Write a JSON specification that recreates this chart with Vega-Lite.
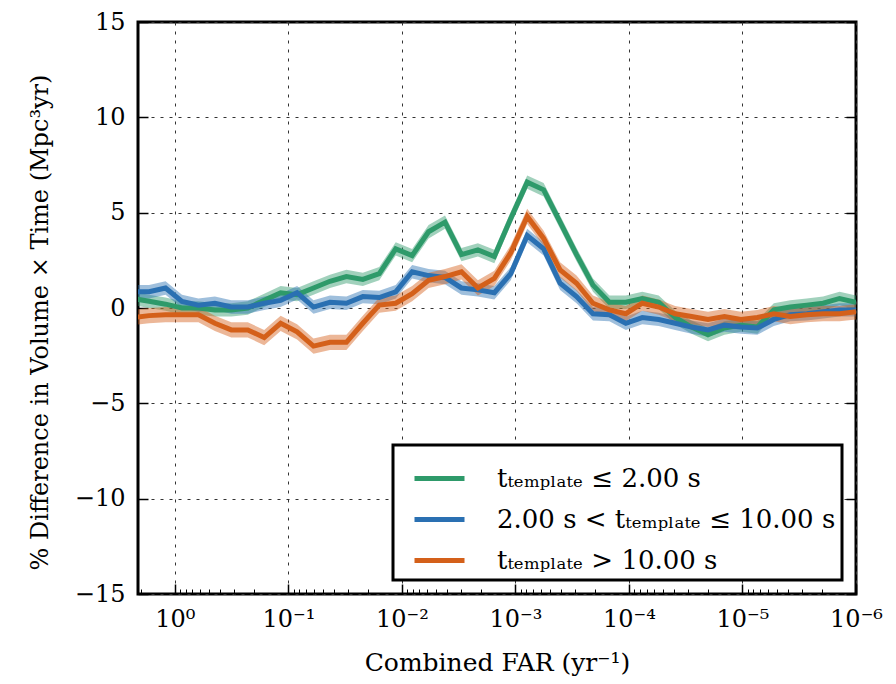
{
  "$schema": "https://vega.github.io/schema/vega-lite/v6.json",
  "width": 718,
  "height": 572,
  "autosize": {"type": "none"},
  "padding": {"left": 138, "top": 22, "right": 40, "bottom": 90},
  "background": "white",
  "config": {
    "view": {"stroke": "black", "strokeWidth": 3},
    "font": "DejaVu Serif",
    "axis": {
      "labelFont": "DejaVu Serif",
      "titleFont": "DejaVu Serif",
      "labelColor": "black",
      "titleColor": "black",
      "titleFontWeight": "normal",
      "domain": false,
      "gridColor": "#333333",
      "gridDash": [3, 6],
      "gridWidth": 1,
      "gridOpacity": 1,
      "tickColor": "black"
    },
    "legend": {"labelFont": "DejaVu Serif"}
  },
  "data": {
    "values": [
      {"far": 2.35, "v": 0.5, "lo": 0.15, "hi": 0.85, "s": "g"},
      {"far": 1.685, "v": 0.35, "lo": 0, "hi": 0.7, "s": "g"},
      {"far": 1.207, "v": 0.2, "lo": -0.15, "hi": 0.55, "s": "g"},
      {"far": 0.8646, "v": 0, "lo": -0.35, "hi": 0.35, "s": "g"},
      {"far": 0.6194, "v": 0, "lo": -0.35, "hi": 0.35, "s": "g"},
      {"far": 0.4437, "v": -0.1, "lo": -0.45, "hi": 0.25, "s": "g"},
      {"far": 0.3179, "v": -0.1, "lo": -0.45, "hi": 0.25, "s": "g"},
      {"far": 0.2277, "v": 0, "lo": -0.35, "hi": 0.35, "s": "g"},
      {"far": 0.1632, "v": 0.4, "lo": 0.05, "hi": 0.75, "s": "g"},
      {"far": 0.1169, "v": 0.8, "lo": 0.45, "hi": 1.15, "s": "g"},
      {"far": 0.08378, "v": 0.7, "lo": 0.35, "hi": 1.05, "s": "g"},
      {"far": 0.06003, "v": 1.05, "lo": 0.7, "hi": 1.4, "s": "g"},
      {"far": 0.043, "v": 1.4, "lo": 1.05, "hi": 1.75, "s": "g"},
      {"far": 0.03081, "v": 1.65, "lo": 1.3, "hi": 2.0, "s": "g"},
      {"far": 0.02208, "v": 1.5, "lo": 1.15, "hi": 1.85, "s": "g"},
      {"far": 0.01582, "v": 1.8, "lo": 1.45, "hi": 2.15, "s": "g"},
      {"far": 0.01133, "v": 3.1, "lo": 2.75, "hi": 3.45, "s": "g"},
      {"far": 0.00812, "v": 2.75, "lo": 2.4, "hi": 3.1, "s": "g"},
      {"far": 0.005818, "v": 4.0, "lo": 3.65, "hi": 4.35, "s": "g"},
      {"far": 0.004169, "v": 4.5, "lo": 4.15, "hi": 4.85, "s": "g"},
      {"far": 0.002987, "v": 2.8, "lo": 2.45, "hi": 3.15, "s": "g"},
      {"far": 0.00214, "v": 3.05, "lo": 2.7, "hi": 3.4, "s": "g"},
      {"far": 0.001533, "v": 2.7, "lo": 2.35, "hi": 3.05, "s": "g"},
      {"far": 0.001099, "v": 4.7, "lo": 4.35, "hi": 5.05, "s": "g"},
      {"far": 0.000787, "v": 6.6, "lo": 6.25, "hi": 6.95, "s": "g"},
      {"far": 0.000564, "v": 6.2, "lo": 5.85, "hi": 6.55, "s": "g"},
      {"far": 0.000404, "v": 4.5, "lo": 4.15, "hi": 4.85, "s": "g"},
      {"far": 0.0002894, "v": 2.8, "lo": 2.45, "hi": 3.15, "s": "g"},
      {"far": 0.0002074, "v": 1.2, "lo": 0.85, "hi": 1.55, "s": "g"},
      {"far": 0.0001486, "v": 0.3, "lo": -0.05, "hi": 0.65, "s": "g"},
      {"far": 0.0001065, "v": 0.3, "lo": -0.05, "hi": 0.65, "s": "g"},
      {"far": 0.00007629, "v": 0.5, "lo": 0.15, "hi": 0.85, "s": "g"},
      {"far": 0.00005466, "v": 0.3, "lo": -0.05, "hi": 0.65, "s": "g"},
      {"far": 0.00003916, "v": -0.5, "lo": -0.85, "hi": -0.15, "s": "g"},
      {"far": 0.00002806, "v": -1.0, "lo": -1.35, "hi": -0.65, "s": "g"},
      {"far": 0.00002011, "v": -1.4, "lo": -1.75, "hi": -1.05, "s": "g"},
      {"far": 0.00001441, "v": -1.05, "lo": -1.4, "hi": -0.7, "s": "g"},
      {"far": 0.00001032, "v": -0.9, "lo": -1.25, "hi": -0.55, "s": "g"},
      {"far": 0.000007393, "v": -1.0, "lo": -1.35, "hi": -0.65, "s": "g"},
      {"far": 0.000005297, "v": -0.1, "lo": -0.45, "hi": 0.25, "s": "g"},
      {"far": 0.000003795, "v": 0.05, "lo": -0.3, "hi": 0.4, "s": "g"},
      {"far": 0.000002719, "v": 0.15, "lo": -0.2, "hi": 0.5, "s": "g"},
      {"far": 0.000001948, "v": 0.25, "lo": -0.1, "hi": 0.6, "s": "g"},
      {"far": 0.000001396, "v": 0.5, "lo": 0.15, "hi": 0.85, "s": "g"},
      {"far": 0.000001, "v": 0.3, "lo": -0.05, "hi": 0.65, "s": "g"},

      {"far": 2.35, "v": 0.85, "lo": 0.5, "hi": 1.2, "s": "b"},
      {"far": 1.685, "v": 0.85, "lo": 0.5, "hi": 1.2, "s": "b"},
      {"far": 1.207, "v": 1.05, "lo": 0.7, "hi": 1.4, "s": "b"},
      {"far": 0.8646, "v": 0.35, "lo": 0, "hi": 0.7, "s": "b"},
      {"far": 0.6194, "v": 0.15, "lo": -0.2, "hi": 0.5, "s": "b"},
      {"far": 0.4437, "v": 0.25, "lo": -0.1, "hi": 0.6, "s": "b"},
      {"far": 0.3179, "v": 0.05, "lo": -0.3, "hi": 0.4, "s": "b"},
      {"far": 0.2277, "v": 0.05, "lo": -0.3, "hi": 0.4, "s": "b"},
      {"far": 0.1632, "v": 0.25, "lo": -0.1, "hi": 0.6, "s": "b"},
      {"far": 0.1169, "v": 0.4, "lo": 0.05, "hi": 0.75, "s": "b"},
      {"far": 0.08378, "v": 0.8, "lo": 0.45, "hi": 1.15, "s": "b"},
      {"far": 0.06003, "v": 0.05, "lo": -0.3, "hi": 0.4, "s": "b"},
      {"far": 0.043, "v": 0.3, "lo": -0.05, "hi": 0.65, "s": "b"},
      {"far": 0.03081, "v": 0.25, "lo": -0.1, "hi": 0.6, "s": "b"},
      {"far": 0.02208, "v": 0.6, "lo": 0.25, "hi": 0.95, "s": "b"},
      {"far": 0.01582, "v": 0.55, "lo": 0.2, "hi": 0.9, "s": "b"},
      {"far": 0.01133, "v": 0.85, "lo": 0.5, "hi": 1.2, "s": "b"},
      {"far": 0.00812, "v": 1.9, "lo": 1.55, "hi": 2.25, "s": "b"},
      {"far": 0.005818, "v": 1.7, "lo": 1.35, "hi": 2.05, "s": "b"},
      {"far": 0.004169, "v": 1.6, "lo": 1.25, "hi": 1.95, "s": "b"},
      {"far": 0.002987, "v": 1.05, "lo": 0.7, "hi": 1.4, "s": "b"},
      {"far": 0.00214, "v": 0.95, "lo": 0.6, "hi": 1.3, "s": "b"},
      {"far": 0.001533, "v": 0.8, "lo": 0.45, "hi": 1.15, "s": "b"},
      {"far": 0.001099, "v": 1.8, "lo": 1.45, "hi": 2.15, "s": "b"},
      {"far": 0.000787, "v": 3.8, "lo": 3.45, "hi": 4.15, "s": "b"},
      {"far": 0.000564, "v": 3.1, "lo": 2.75, "hi": 3.45, "s": "b"},
      {"far": 0.000404, "v": 1.3, "lo": 0.95, "hi": 1.65, "s": "b"},
      {"far": 0.0002894, "v": 0.6, "lo": 0.25, "hi": 0.95, "s": "b"},
      {"far": 0.0002074, "v": -0.3, "lo": -0.65, "hi": 0.05, "s": "b"},
      {"far": 0.0001486, "v": -0.35, "lo": -0.7, "hi": 0, "s": "b"},
      {"far": 0.0001065, "v": -0.8, "lo": -1.15, "hi": -0.45, "s": "b"},
      {"far": 0.00007629, "v": -0.5, "lo": -0.85, "hi": -0.15, "s": "b"},
      {"far": 0.00005466, "v": -0.6, "lo": -0.95, "hi": -0.25, "s": "b"},
      {"far": 0.00003916, "v": -0.8, "lo": -1.15, "hi": -0.45, "s": "b"},
      {"far": 0.00002806, "v": -1.0, "lo": -1.35, "hi": -0.65, "s": "b"},
      {"far": 0.00002011, "v": -1.15, "lo": -1.5, "hi": -0.8, "s": "b"},
      {"far": 0.00001441, "v": -0.9, "lo": -1.25, "hi": -0.55, "s": "b"},
      {"far": 0.00001032, "v": -1.0, "lo": -1.35, "hi": -0.65, "s": "b"},
      {"far": 0.000007393, "v": -1.05, "lo": -1.4, "hi": -0.7, "s": "b"},
      {"far": 0.000005297, "v": -0.6, "lo": -0.95, "hi": -0.25, "s": "b"},
      {"far": 0.000003795, "v": -0.35, "lo": -0.7, "hi": 0, "s": "b"},
      {"far": 0.000002719, "v": -0.3, "lo": -0.65, "hi": 0.05, "s": "b"},
      {"far": 0.000001948, "v": -0.2, "lo": -0.55, "hi": 0.15, "s": "b"},
      {"far": 0.000001396, "v": -0.1, "lo": -0.45, "hi": 0.25, "s": "b"},
      {"far": 0.000001, "v": -0.1, "lo": -0.45, "hi": 0.25, "s": "b"},

      {"far": 2.35, "v": -0.5, "lo": -0.9, "hi": -0.1, "s": "o"},
      {"far": 1.685, "v": -0.4, "lo": -0.8, "hi": 0, "s": "o"},
      {"far": 1.207, "v": -0.35, "lo": -0.75, "hi": 0.05, "s": "o"},
      {"far": 0.8646, "v": -0.35, "lo": -0.75, "hi": 0.05, "s": "o"},
      {"far": 0.6194, "v": -0.35, "lo": -0.75, "hi": 0.05, "s": "o"},
      {"far": 0.4437, "v": -0.8, "lo": -1.2, "hi": -0.4, "s": "o"},
      {"far": 0.3179, "v": -1.15, "lo": -1.55, "hi": -0.75, "s": "o"},
      {"far": 0.2277, "v": -1.15, "lo": -1.55, "hi": -0.75, "s": "o"},
      {"far": 0.1632, "v": -1.55, "lo": -1.95, "hi": -1.15, "s": "o"},
      {"far": 0.1169, "v": -0.8, "lo": -1.2, "hi": -0.4, "s": "o"},
      {"far": 0.08378, "v": -1.25, "lo": -1.65, "hi": -0.85, "s": "o"},
      {"far": 0.06003, "v": -2.0, "lo": -2.4, "hi": -1.6, "s": "o"},
      {"far": 0.043, "v": -1.8, "lo": -2.2, "hi": -1.4, "s": "o"},
      {"far": 0.03081, "v": -1.8, "lo": -2.2, "hi": -1.4, "s": "o"},
      {"far": 0.02208, "v": -0.8, "lo": -1.2, "hi": -0.4, "s": "o"},
      {"far": 0.01582, "v": 0.15, "lo": -0.25, "hi": 0.55, "s": "o"},
      {"far": 0.01133, "v": 0.25, "lo": -0.15, "hi": 0.65, "s": "o"},
      {"far": 0.00812, "v": 0.75, "lo": 0.35, "hi": 1.15, "s": "o"},
      {"far": 0.005818, "v": 1.45, "lo": 1.05, "hi": 1.85, "s": "o"},
      {"far": 0.004169, "v": 1.65, "lo": 1.25, "hi": 2.05, "s": "o"},
      {"far": 0.002987, "v": 1.9, "lo": 1.5, "hi": 2.3, "s": "o"},
      {"far": 0.00214, "v": 1.05, "lo": 0.65, "hi": 1.45, "s": "o"},
      {"far": 0.001533, "v": 1.55, "lo": 1.15, "hi": 1.95, "s": "o"},
      {"far": 0.001099, "v": 2.9, "lo": 2.5, "hi": 3.3, "s": "o"},
      {"far": 0.000787, "v": 4.8, "lo": 4.4, "hi": 5.2, "s": "o"},
      {"far": 0.000564, "v": 3.65, "lo": 3.25, "hi": 4.05, "s": "o"},
      {"far": 0.000404, "v": 2.0, "lo": 1.6, "hi": 2.4, "s": "o"},
      {"far": 0.0002894, "v": 1.3, "lo": 0.9, "hi": 1.7, "s": "o"},
      {"far": 0.0002074, "v": 0.25, "lo": -0.15, "hi": 0.65, "s": "o"},
      {"far": 0.0001486, "v": -0.1, "lo": -0.5, "hi": 0.3, "s": "o"},
      {"far": 0.0001065, "v": -0.3, "lo": -0.7, "hi": 0.1, "s": "o"},
      {"far": 0.00007629, "v": 0.25, "lo": -0.15, "hi": 0.65, "s": "o"},
      {"far": 0.00005466, "v": 0.05, "lo": -0.35, "hi": 0.45, "s": "o"},
      {"far": 0.00003916, "v": -0.3, "lo": -0.7, "hi": 0.1, "s": "o"},
      {"far": 0.00002806, "v": -0.45, "lo": -0.85, "hi": -0.05, "s": "o"},
      {"far": 0.00002011, "v": -0.6, "lo": -1.0, "hi": -0.2, "s": "o"},
      {"far": 0.00001441, "v": -0.45, "lo": -0.85, "hi": -0.05, "s": "o"},
      {"far": 0.00001032, "v": -0.6, "lo": -1.0, "hi": -0.2, "s": "o"},
      {"far": 0.000007393, "v": -0.5, "lo": -0.9, "hi": -0.1, "s": "o"},
      {"far": 0.000005297, "v": -0.3, "lo": -0.7, "hi": 0.1, "s": "o"},
      {"far": 0.000003795, "v": -0.45, "lo": -0.85, "hi": -0.05, "s": "o"},
      {"far": 0.000002719, "v": -0.35, "lo": -0.75, "hi": 0.05, "s": "o"},
      {"far": 0.000001948, "v": -0.3, "lo": -0.7, "hi": 0.1, "s": "o"},
      {"far": 0.000001396, "v": -0.3, "lo": -0.7, "hi": 0.1, "s": "o"},
      {"far": 0.000001, "v": -0.2, "lo": -0.6, "hi": 0.2, "s": "o"}
    ]
  },
  "resolve": {"axis": {"x": "independent", "y": "independent"}},
  "layer": [
    {
      "mark": {"type": "area", "opacity": 0.45, "clip": true},
      "encoding": {
        "x": {
          "field": "far",
          "type": "quantitative",
          "scale": {"type": "log", "domain": [0.000001, 2.11], "reverse": true, "nice": false},
          "axis": {
            "values": [1, 0.1, 0.01, 0.001, 0.0001, 0.00001, 0.000001],
            "labelExpr": "'10' + ['⁰','⁻¹','⁻²','⁻³','⁻⁴','⁻⁵','⁻⁶'][round(-log(datum.value)/LN10)]",
            "labelFont": "DejaVu Serif",
            "labelFontSize": 24,
            "labelPadding": 23,
            "labelFlush": false,
            "tickSize": -10,
            "tickWidth": 1.5,
            "grid": true,
            "title": "Combined FAR (yr⁻¹)",
            "titleFont": "DejaVu Serif",
            "titleFontSize": 25,
            "titleX": 359,
            "titleY": 68,
            "titleBaseline": "middle"
          }
        },
        "y": {
          "field": "lo",
          "type": "quantitative",
          "scale": {"domain": [-15, 15], "nice": false},
          "axis": {
            "values": [-15, -10, -5, 0, 5, 10, 15],
            "labelFont": "DejaVu Serif",
            "labelFontSize": 24,
            "labelPadding": 23,
            "tickSize": -10,
            "tickWidth": 1.5,
            "grid": true,
            "title": "% Difference in Volume × Time (Mpc³yr)",
            "titleFont": "DejaVu Serif",
            "titleFontSize": 24,
            "titleX": -98,
            "titleY": 300,
            "titleBaseline": "middle"
          }
        },
        "y2": {"field": "hi"},
        "color": {
          "field": "s",
          "type": "nominal",
          "scale": {"domain": ["g", "b", "o"], "range": ["#2e9a6a", "#2a70b2", "#d4601a"]},
          "legend": {
            "orient": "bottom-right",
            "offset": 14,
            "title": null,
            "fillColor": "white",
            "strokeColor": "black",
            "padding": 6,
            "labelFont": "DejaVu Serif",
            "labelFontSize": 26,
            "labelLimit": 600,
            "labelOffset": 30,
            "rowPadding": 0,
            "symbolOffset": 13,
            "symbolType": "stroke",
            "symbolStrokeWidth": 5,
            "symbolSize": 2500,
            "symbolOpacity": 1,
            "labelExpr": "datum.label == 'g' ? 'tₜₑₘₚₗₐₜₑ ≤ 2.00 s' : datum.label == 'b' ? '2.00 s < tₜₑₘₚₗₐₜₑ ≤ 10.00 s' : 'tₜₑₘₚₗₐₜₑ > 10.00 s'",
            "encode": {"legend": {"update": {"strokeWidth": {"value": 3}}}}
          }
        }
      }
    },
    {
      "mark": {"type": "line", "strokeWidth": 5, "clip": true},
      "encoding": {
        "x": {
          "field": "far",
          "type": "quantitative",
          "axis": {
            "orient": "bottom",
            "values": [2, 0.9, 0.8, 0.7, 0.6, 0.5, 0.4, 0.3, 0.2, 0.09, 0.08, 0.07, 0.06, 0.05, 0.04, 0.03, 0.02, 0.009, 0.008, 0.007, 0.006, 0.005, 0.004, 0.003, 0.002, 0.0009, 0.0008, 0.0007, 0.0006, 0.0005, 0.0004, 0.0003, 0.0002, 0.00009, 0.00008, 0.00007, 0.00006, 0.00005, 0.00004, 0.00003, 0.00002, 0.000009, 0.000008, 0.000007, 0.000006, 0.000005, 0.000004, 0.000003, 0.000002],
            "labels": false,
            "grid": false,
            "tickSize": -5,
            "tickWidth": 1,
            "title": null
          }
        },
        "y": {
          "field": "v",
          "type": "quantitative",
          "axis": {
            "orient": "right",
            "values": [-15, -10, -5, 0, 5, 10, 15],
            "labels": false,
            "grid": false,
            "tickSize": -10,
            "tickWidth": 1.5,
            "title": null
          }
        },
        "color": {
          "field": "s",
          "type": "nominal",
          "legend": {
            "orient": "bottom-right",
            "offset": 14,
            "title": null,
            "fillColor": "white",
            "strokeColor": "black",
            "padding": 6,
            "labelFont": "DejaVu Serif",
            "labelFontSize": 26,
            "labelLimit": 600,
            "labelOffset": 30,
            "rowPadding": 0,
            "symbolOffset": 13,
            "symbolType": "stroke",
            "symbolStrokeWidth": 5,
            "symbolSize": 2500,
            "symbolOpacity": 1,
            "labelExpr": "datum.label == 'g' ? 'tₜₑₘₚₗₐₜₑ ≤ 2.00 s' : datum.label == 'b' ? '2.00 s < tₜₑₘₚₗₐₜₑ ≤ 10.00 s' : 'tₜₑₘₚₗₐₜₑ > 10.00 s'",
            "encode": {"legend": {"update": {"strokeWidth": {"value": 3}}}}
          }
        }
      }
    }
  ]
}
